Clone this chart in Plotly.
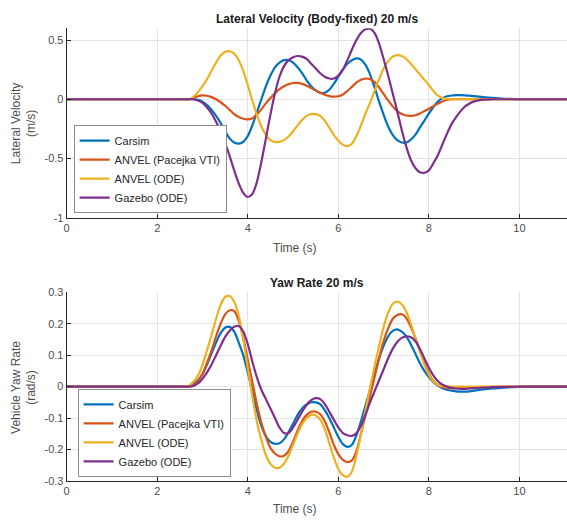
import plotly.graph_objects as go

# Sample times (s): sparse in the flat start/end, 0.1 s through the manoeuvre
time_s = [0, 1, 2, 2.5,
          2.6, 2.7, 2.8, 2.9, 3.0, 3.1, 3.2, 3.3, 3.4, 3.5,
          3.6, 3.7, 3.8, 3.9, 4.0, 4.1, 4.2, 4.3, 4.4, 4.5,
          4.6, 4.7, 4.8, 4.9, 5.0, 5.1, 5.2, 5.3, 5.4, 5.5,
          5.6, 5.7, 5.8, 5.9, 6.0, 6.1, 6.2, 6.3, 6.4, 6.5,
          6.6, 6.7, 6.8, 6.9, 7.0, 7.1, 7.2, 7.3, 7.4, 7.5,
          7.6, 7.7, 7.8, 7.9, 8.0, 8.1, 8.2, 8.3, 8.4, 8.5,
          8.6, 8.7, 8.8, 8.9, 9.0,
          9.2, 9.4, 9.6, 9.8, 10.0, 10.5, 11.05]

# Lateral velocity (m/s)
lat_carsim = [0, 0, 0, 0,
              0, 0, 0, -0.005, -0.02, -0.05, -0.09, -0.14, -0.2, -0.27,
              -0.33, -0.365, -0.375, -0.36, -0.31, -0.22, -0.11, 0.0, 0.11, 0.2,
              0.27, 0.31, 0.33, 0.33, 0.31, 0.27, 0.22, 0.16, 0.11, 0.075,
              0.055, 0.055, 0.08, 0.13, 0.19, 0.25, 0.3, 0.33, 0.345, 0.335,
              0.29, 0.21, 0.1, -0.02, -0.13, -0.23, -0.3, -0.345, -0.365, -0.365,
              -0.34, -0.3, -0.24, -0.18, -0.12, -0.065, -0.02, 0.01, 0.025, 0.032,
              0.035, 0.035, 0.033, 0.03, 0.026,
              0.018, 0.011, 0.006, 0.003, 0.001, 0, 0]
lat_anvel_pacejka = [0, 0, 0, 0,
                     0, 0, 0.012, 0.025, 0.032, 0.03, 0.018, 0.0, -0.025, -0.055,
                     -0.09, -0.125, -0.15, -0.165, -0.17, -0.16, -0.13, -0.085, -0.035, 0.01,
                     0.05, 0.085, 0.11, 0.128, 0.137, 0.138, 0.13, 0.115, 0.095, 0.075,
                     0.055, 0.038, 0.027, 0.022, 0.025, 0.04, 0.07, 0.105, 0.14, 0.165,
                     0.175, 0.17, 0.145, 0.1, 0.045, -0.01, -0.06, -0.1, -0.125, -0.137,
                     -0.14, -0.135, -0.12, -0.1, -0.08, -0.058, -0.037, -0.018, -0.006, 0,
                     0, 0, 0, 0, 0,
                     0, 0, 0, 0, 0, 0, 0]
lat_anvel_ode = [0, 0, 0, 0,
                 0, 0, 0.02, 0.06, 0.11, 0.17, 0.24, 0.31, 0.37, 0.4,
                 0.405, 0.385, 0.33, 0.24, 0.12, -0.01, -0.13, -0.23, -0.3, -0.345,
                 -0.36, -0.36, -0.345, -0.315, -0.27, -0.22, -0.175, -0.14, -0.125, -0.125,
                 -0.14, -0.18, -0.24, -0.3, -0.35, -0.385, -0.395, -0.375, -0.31, -0.22,
                 -0.12, -0.03, 0.07, 0.17, 0.26, 0.32, 0.36, 0.372, 0.365, 0.34,
                 0.3, 0.255, 0.21, 0.165, 0.12, 0.07, 0.03, 0.01, 0.003, 0,
                 0, 0, 0, 0, 0,
                 0, 0, 0, 0, 0, 0, 0]
lat_gazebo_ode = [0, 0, 0, 0,
                  0, 0, 0, -0.01, -0.03, -0.07, -0.12, -0.19, -0.27, -0.37,
                  -0.48, -0.6, -0.71, -0.79, -0.825, -0.8, -0.7, -0.53, -0.33, -0.13,
                  0.05, 0.19, 0.28, 0.33, 0.355, 0.365, 0.36, 0.34, 0.3, 0.26,
                  0.22, 0.19, 0.175, 0.175, 0.2, 0.25, 0.33, 0.42, 0.5, 0.56,
                  0.59, 0.595, 0.56, 0.47, 0.34, 0.2, 0.05, -0.1, -0.26, -0.4,
                  -0.51, -0.58, -0.615, -0.62, -0.6, -0.54, -0.47, -0.38, -0.29, -0.21,
                  -0.15, -0.1, -0.06, -0.035, -0.018,
                  -0.003, 0, 0, 0, 0, 0, 0]

# Vehicle yaw rate (rad/s)
yaw_carsim = [0, 0, 0, 0,
              0, 0.002, 0.008, 0.02, 0.04, 0.07, 0.105, 0.14, 0.17, 0.187,
              0.19, 0.175, 0.14, 0.1, 0.045, -0.015, -0.075, -0.125, -0.158, -0.176,
              -0.182, -0.18, -0.168, -0.145, -0.118, -0.09, -0.07, -0.057, -0.05, -0.05,
              -0.056, -0.075, -0.1, -0.13, -0.16, -0.183, -0.192, -0.185, -0.155, -0.11,
              -0.06, -0.01, 0.04, 0.09, 0.13, 0.16, 0.177, 0.182, 0.175, 0.16,
              0.135, 0.105, 0.075, 0.05, 0.03, 0.014, 0.003, -0.005, -0.01, -0.013,
              -0.015, -0.016, -0.016, -0.015, -0.013,
              -0.009, -0.006, -0.004, -0.002, -0.001, 0, 0]
yaw_anvel_pacejka = [0, 0, 0, 0,
                     0, 0, 0.005, 0.018, 0.04, 0.075, 0.115, 0.16, 0.2, 0.23,
                     0.243, 0.24, 0.21, 0.155, 0.085, 0.015, -0.055, -0.115, -0.16, -0.195,
                     -0.213, -0.222, -0.22, -0.205, -0.175, -0.14, -0.11, -0.09, -0.08, -0.08,
                     -0.088, -0.11, -0.145, -0.185, -0.215, -0.233, -0.24, -0.235, -0.205, -0.15,
                     -0.09, -0.03, 0.03, 0.09, 0.145, 0.185, 0.215, 0.228, 0.23, 0.218,
                     0.19, 0.155, 0.115, 0.075, 0.042, 0.018, 0.005, -0.002, -0.004, -0.005,
                     -0.005, -0.005, -0.005, -0.004, -0.003,
                     -0.002, -0.001, -0.001, 0, 0, 0, 0]
yaw_anvel_ode = [0, 0, 0, 0,
                 0, 0.003, 0.015, 0.035, 0.07, 0.115, 0.165, 0.215, 0.26, 0.285,
                 0.288, 0.27, 0.225, 0.15, 0.06, -0.03, -0.11, -0.17, -0.218, -0.246,
                 -0.258, -0.258, -0.245, -0.22, -0.185, -0.15, -0.12, -0.1, -0.09, -0.092,
                 -0.105, -0.135, -0.18, -0.225, -0.262, -0.282, -0.287, -0.27, -0.22, -0.15,
                 -0.075, -0.005, 0.065, 0.13, 0.19, 0.235, 0.263, 0.27, 0.262, 0.238,
                 0.2, 0.155, 0.11, 0.07, 0.038, 0.016, 0.005, 0.001, 0, 0,
                 0, 0, 0, 0, 0,
                 0, 0, 0, 0, 0, 0, 0]
yaw_gazebo_ode = [0, 0, 0, 0,
                  0, 0, 0.002, 0.01, 0.025, 0.045, 0.07, 0.1, 0.13, 0.158,
                  0.178, 0.19, 0.193, 0.175, 0.135, 0.08, 0.03, -0.01, -0.04, -0.07,
                  -0.1, -0.13, -0.148, -0.148, -0.13, -0.105, -0.08, -0.058, -0.043, -0.037,
                  -0.04, -0.055, -0.08, -0.105, -0.13, -0.148, -0.155, -0.157, -0.148, -0.125,
                  -0.09, -0.05, -0.015, 0.02, 0.055, 0.09, 0.12, 0.142, 0.155, 0.16,
                  0.157, 0.145, 0.12, 0.09, 0.06, 0.035, 0.017, 0.006, 0, -0.004,
                  -0.006, -0.007, -0.007, -0.006, -0.005,
                  -0.003, -0.002, -0.001, -0.001, 0, 0, 0]

series_names = ["Carsim", "ANVEL (Pacejka VTI)", "ANVEL (ODE)", "Gazebo (ODE)"]
colors = ["#0072BD", "#D95319", "#EDB120", "#7E2F8E"]
lateral = [lat_carsim, lat_anvel_pacejka, lat_anvel_ode, lat_gazebo_ode]
yaw = [yaw_carsim, yaw_anvel_pacejka, yaw_anvel_ode, yaw_gazebo_ode]

x_ticks = [0, 2, 4, 6, 8, 10]
lat_ticks = [-1, -0.5, 0, 0.5]
lat_tick_text = ["-1", "-0.5", "0", "0.5"]
yaw_ticks = [-0.3, -0.2, -0.1, 0, 0.1, 0.2, 0.3]
yaw_tick_text = ["-0.3", "-0.2", "-0.1", "0", "0.1", "0.2", "0.3"]

FONT = "Liberation Sans, Arial, Helvetica, sans-serif"
W, H = 567, 524

fig = go.Figure()
for name, col, ys in zip(series_names, colors, lateral):
    fig.add_trace(go.Scatter(x=time_s, y=ys, name=name, mode="lines",
                             line=dict(color=col, width=2.2, shape="spline", smoothing=0.8),
                             xaxis="x", yaxis="y", legend="legend"))
for name, col, ys in zip(series_names, colors, yaw):
    fig.add_trace(go.Scatter(x=time_s, y=ys, name=name, mode="lines",
                             line=dict(color=col, width=2.2, shape="spline", smoothing=0.8),
                             xaxis="x2", yaxis="y2", legend="legend2"))

x_left = 64 / W
top_dom = [1 - 216.7 / H, 1 - 22.7 / H]
bot_dom = [1 - 486 / H, 1 - 293 / H]

axis_common = dict(
    showgrid=True, gridcolor="#e3e3e3", gridwidth=1,
    showline=True, linecolor="#262626", linewidth=1,
    ticks="inside", ticklen=4, tickcolor="#262626",
    tickfont=dict(family=FONT, size=11, color="#4d4d4d"),
    zeroline=False, mirror=False,
)

legend_common = dict(xanchor="left", yanchor="bottom", bgcolor="white",
                     bordercolor="#8c8c8c", borderwidth=1,
                     font=dict(family=FONT, size=11, color="#262626"))

fig.update_layout(
    width=W, height=H,
    margin=dict(l=0, r=0, t=0, b=0),
    paper_bgcolor="white", plot_bgcolor="white",
    font=dict(family=FONT, color="#262626"),
    showlegend=True,
    xaxis=dict(axis_common, domain=[x_left, 1], range=[0, 11.05], tickvals=x_ticks,
               anchor="y"),
    yaxis=dict(axis_common, domain=top_dom, range=[-1, 0.6], tickvals=lat_ticks,
               ticktext=lat_tick_text, anchor="x"),
    xaxis2=dict(axis_common, domain=[x_left, 1], range=[0, 11.05], tickvals=x_ticks,
                anchor="y2"),
    yaxis2=dict(axis_common, domain=bot_dom, range=[-0.3, 0.3], tickvals=yaw_ticks,
                ticktext=yaw_tick_text, anchor="x2"),
    legend=dict(legend_common, x=71 / W, y=1 - 212 / H),
    legend2=dict(legend_common, x=75 / W, y=1 - 482 / H),
)

ann = []
title_x = (64 + W) / 2 / W
ann.append(dict(text="<b>Lateral Velocity (Body-fixed) 20 m/s</b>", x=title_x, y=1 - 13 / H,
                font=dict(size=12, color="#1a1a1a")))
ann.append(dict(text="<b>Yaw Rate 20 m/s</b>", x=title_x, y=1 - 283 / H,
                font=dict(size=12, color="#1a1a1a")))
ann.append(dict(text="Time (s)", x=title_x - 22 / W, y=1 - 248 / H,
                font=dict(size=12, color="#4d4d4d")))
ann.append(dict(text="Time (s)", x=title_x - 22 / W, y=1 - 515 / H,
                font=dict(size=12, color="#4d4d4d")))
ann.append(dict(text="Lateral Velocity<br>(m/s)", x=21 / W, y=1 - 120 / H, textangle=-90,
                font=dict(size=12, color="#4d4d4d")))
ann.append(dict(text="Vehicle Yaw Rate<br>(rad/s)", x=21 / W, y=1 - 390 / H, textangle=-90,
                font=dict(size=12, color="#4d4d4d")))
for a in ann:
    a.update(xref="paper", yref="paper", showarrow=False, xanchor="center", yanchor="middle")
    a["font"]["family"] = FONT
fig.update_layout(annotations=ann)

fig.write_html("out.html")
